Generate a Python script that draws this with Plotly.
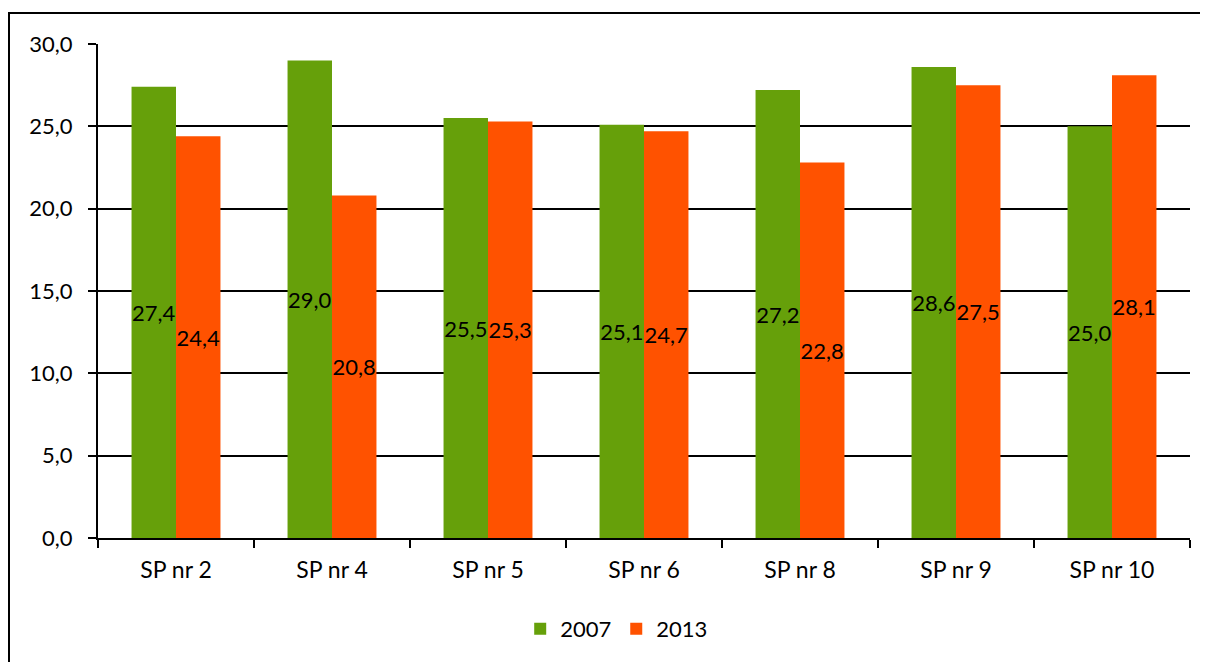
import plotly.graph_objects as go

categories = ["SP nr 2", "SP nr 4", "SP nr 5", "SP nr 6", "SP nr 8", "SP nr 9", "SP nr 10"]
values_2007 = [27.4, 29.0, 25.5, 25.1, 27.2, 28.6, 25.0]
values_2013 = [24.4, 20.8, 25.3, 24.7, 22.8, 27.5, 28.1]
series_names = ["2007", "2013"]
colors = ["#66A00A", "#FF5200"]

FONT = "Lato"

fig = go.Figure()
for name, vals, col in zip(series_names, [values_2007, values_2013], colors):
    fig.add_trace(go.Bar(
        x=categories, y=vals, name=name,
        marker=dict(color=col, line=dict(width=0)),
        texttemplate="%{y:.1f}",
        textposition="inside",
        insidetextanchor="middle",
        textangle=0,
        constraintext="none",
        insidetextfont=dict(family=FONT, size=22, color="black"),
    ))

fig.update_layout(
    width=1200, height=654,
    paper_bgcolor="white", plot_bgcolor="white",
    margin=dict(l=90, r=18, t=36, b=124),
    barmode="group", bargap=0.43, bargroupgap=0,
    separators=", ",
    font=dict(family=FONT, size=22, color="black"),
    showlegend=True,
    legend=dict(orientation="h", x=0.475, xanchor="center", y=-0.184, yanchor="middle",
                font=dict(family=FONT, size=22), itemwidth=30, traceorder="normal"),
    xaxis=dict(showline=True, linecolor="black", linewidth=2, ticks="outside",
               tickson="boundaries", ticklen=8, tickwidth=2, tickcolor="black",
               showgrid=False, ticklabelstandoff=10, tickfont=dict(size=23)),
    yaxis=dict(range=[0, 30], dtick=5, tickformat=".1f", showline=True, linecolor="black",
               linewidth=2, ticks="outside", ticklen=8, tickwidth=2, tickcolor="black",
               showgrid=True, gridcolor="black", gridwidth=1.5, zeroline=False,
               ticklabelstandoff=11),
    shapes=[dict(type="rect", xref="paper", yref="paper",
                 x0=(9 - 98) / 1092, x1=1.2, y0=-0.4, y1=(538 - 13) / 494,
                 line=dict(color="black", width=2), fillcolor="rgba(0,0,0,0)", layer="below")],
)

fig.write_html("out.html")
